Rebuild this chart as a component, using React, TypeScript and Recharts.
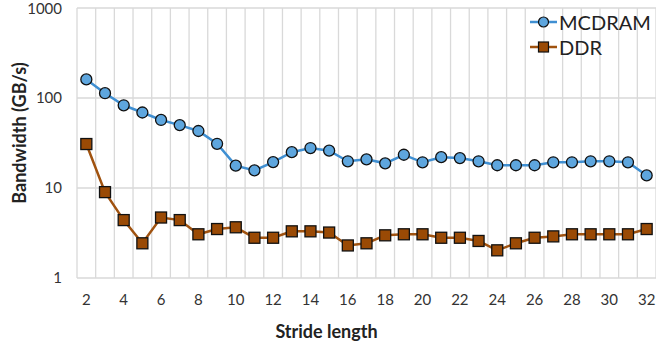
import { LineChart, Line, XAxis, YAxis, CartesianGrid } from "recharts";

const strides = [
  2, 3, 4, 5, 6, 7, 8, 9, 10, 11, 12, 13, 14, 15, 16, 17, 18, 19, 20, 21, 22, 23, 24, 25, 26, 27, 28,
  29, 30, 31, 32,
];
const mcdram = [
  161, 113, 83, 69, 57, 50, 43, 31, 17.7, 15.7, 19.4, 25, 27.8, 26, 19.8, 20.8, 18.8, 23.4, 19.3, 22,
  21.5, 19.8, 17.9, 17.9, 17.9, 19.3, 19.3, 19.8, 19.8, 19.3, 13.8,
];
const ddr = [
  30.8, 9.0, 4.4, 2.43, 4.7, 4.4, 3.06, 3.5, 3.66, 2.8, 2.8, 3.3, 3.3, 3.2, 2.3, 2.43, 2.98, 3.06, 3.06,
  2.8, 2.8, 2.58, 2.03, 2.43, 2.8, 2.9, 3.06, 3.06, 3.06, 3.06, 3.5,
];
const xTicks = [2, 4, 6, 8, 10, 12, 14, 16, 18, 20, 22, 24, 26, 28, 30, 32];
const yTicks = [1, 10, 100, 1000];

const data = strides.map((s, i) => ({ stride: s, mcdram: mcdram[i], ddr: ddr[i] }));

const FONT = "Lato, 'Open Sans', sans-serif";
const BLUE_LINE = "#3f8fd2";
const BLUE_FILL = "#5ea6de";
const BROWN_LINE = "#a0520f";
const BROWN_FILL = "#9a4a05";
const MARK_STROKE = "#111111";

const CircleDot = (props: any) => {
  const { cx, cy, index } = props;
  if (cx == null || cy == null) return <g key={`c-${index}`} />;
  return (
    <circle key={`c-${index}`} cx={cx} cy={cy} r={5.5} fill={BLUE_FILL} stroke={MARK_STROKE} strokeWidth={1.3} />
  );
};

const SquareDot = (props: any) => {
  const { cx, cy, index } = props;
  if (cx == null || cy == null) return <g key={`s-${index}`} />;
  return (
    <rect key={`s-${index}`} x={cx - 5.5} y={cy - 5.5} width={11} height={11} fill={BROWN_FILL} stroke={MARK_STROKE} strokeWidth={1.3} />
  );
};

// legend drawn on top of the chart, Excel style
const ChartLegend = () => (
  <svg width={125} height={56} style={{ position: "absolute", left: 530, top: 10, overflow: "visible" }}>
    <line x1={0} y1={12} x2={27} y2={12} stroke={BLUE_LINE} strokeWidth={2.5} />
    <circle cx={13.5} cy={12} r={5} fill={BLUE_FILL} stroke={MARK_STROKE} strokeWidth={1.2} />
    <text x={29} y={12} dominantBaseline="central" fontFamily={FONT} fontSize={20} fill="#222">
      MCDRAM
    </text>
    <line x1={0} y1={37} x2={27} y2={37} stroke={BROWN_LINE} strokeWidth={2.5} />
    <rect x={8.5} y={32} width={10} height={10} fill={BROWN_FILL} stroke={MARK_STROKE} strokeWidth={1.2} />
    <text x={29} y={37} dominantBaseline="central" fontFamily={FONT} fontSize={20} fill="#222">
      DDR
    </text>
  </svg>
);

const YTitle = (props: any) => {
  const { viewBox } = props;
  const cx = viewBox.x + 19;
  const cy = viewBox.y + viewBox.height / 2 - 10;
  return (
    <text
      x={cx}
      y={cy}
      transform={`rotate(-90, ${cx}, ${cy})`}
      textAnchor="middle"
      dominantBaseline="central"
      fontFamily={FONT}
      fontWeight="bold"
      fontSize={18}
      fill="#222"
    >
      Bandwidth (GB/s)
    </text>
  );
};

const XTitle = (props: any) => {
  const { viewBox } = props;
  return (
    <text
      x={viewBox.x + viewBox.width / 2 - 40}
      y={viewBox.y + 53}
      textAnchor="middle"
      dominantBaseline="central"
      fontFamily={FONT}
      fontWeight="bold"
      fontSize={18}
      fill="#222"
    >
      Stride length
    </text>
  );
};

export default function App() {
  const boundaries = strides.map((s) => s - 0.5).concat([strides[strides.length - 1] + 0.5]);

  return (
    <div style={{ position: "absolute", left: 0, top: 0, width: 656, height: 343, background: "#fff" }}>
      <LineChart width={656} height={343} data={data} margin={{ top: 8, right: 0, left: 0, bottom: 0 }}>
        <CartesianGrid
          stroke="#d9d9d9"
          strokeWidth={1.3}
          verticalCoordinatesGenerator={({ offset }: any) =>
            boundaries.map((b) => offset.left + ((b - 1.5) / 31) * offset.width)
          }
        />
        <XAxis
          dataKey="stride"
          type="number"
          domain={[1.5, 32.5]}
          ticks={xTicks}
          interval={0}
          axisLine={false}
          tickLine={false}
          tickMargin={10}
          height={65}
          tick={{ fill: "#333", fontSize: 15, fontFamily: FONT }}
          label={<XTitle />}
        />
        <YAxis
          scale="log"
          domain={[1, 1000]}
          ticks={yTicks}
          allowDataOverflow
          axisLine={false}
          tickLine={false}
          tickMargin={9}
          width={77}
          tick={{ fill: "#333", fontSize: 15, fontFamily: FONT }}
          label={<YTitle />}
        />
        <Line
          dataKey="mcdram"
          name="MCDRAM"
          stroke={BLUE_LINE}
          strokeWidth={2.5}
          dot={CircleDot}
          isAnimationActive={false}
        />
        <Line
          dataKey="ddr"
          name="DDR"
          stroke={BROWN_LINE}
          strokeWidth={2.5}
          dot={SquareDot}
          isAnimationActive={false}
        />
      </LineChart>
      <ChartLegend />
    </div>
  );
}
